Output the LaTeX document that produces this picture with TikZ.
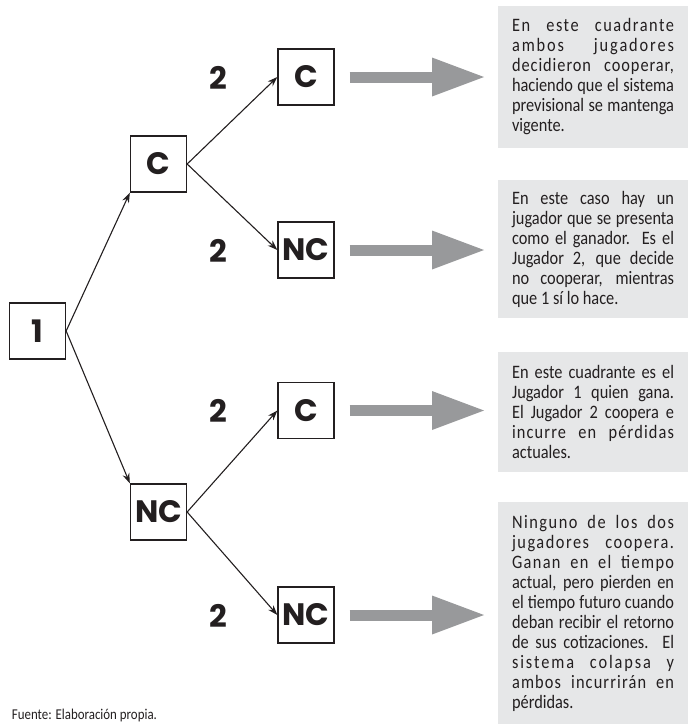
\documentclass[tikz,border=0pt]{standalone}
\usepackage{fontspec}
\usetikzlibrary{arrows.meta}
\newfontfamily\notefont{Carlito}[FakeStretch=0.86]
\newfontfamily\labelfont{Poppins}
\newcommand\spreadtext[2]{{\addfontfeatures{LetterSpace=#1}#2}}
\definecolor{inkblack}{HTML}{231F20}
\definecolor{notegrey}{HTML}{E6E7E8}
\definecolor{arrowgrey}{HTML}{98999B}
\setlength{\parindent}{0pt}

\begin{document}
\begin{tikzpicture}[x=1pt, y=-1pt, inkblack, line width=1.1pt,
    >={Stealth[length=10pt, width=7pt]},
    choice/.style={draw, line width=1.3pt, minimum size=56pt, inner sep=0pt,
      font=\labelfont\bfseries\fontsize{31}{31}\selectfont},
    player/.style={font=\labelfont\bfseries\fontsize{31}{31}\selectfont},
    note/.style={fill=notegrey, anchor=west, text width=162pt, inner xsep=14.5pt,
      inner ysep=0pt, align=justify, font=\notefont\fontsize{19}{20}\selectfont},
    bigarrow/.style={draw=arrowgrey, line width=11pt,
      -{Triangle[length=52pt, width=39pt, line width=0pt]},
      shorten <=15pt, shorten >=13pt}]
  \useasboundingbox (0,0) rectangle (688,724);

  \node[choice] (n1)   at (37.5, 331)  {1};
  \node[choice] (c1)   at (158.5, 164) {C};
  \node[choice] (nc1)  at (158.5, 512) {NC};
  \node[choice] (c2a)  at (306, 77)    {C};
  \node[choice] (nc2a) at (306, 250)   {NC};
  \node[choice] (c2b)  at (306, 410.5) {C};
  \node[choice] (nc2b) at (306, 615)   {NC};

  \node[player] (p2a) at (218, 78)  {2};
  \node[player] (p2b) at (218, 251) {2};
  \node[player] (p2c) at (218, 411) {2};
  \node[player] (p2d) at (218, 616) {2};

  \node[note, minimum height=142pt] (t1) at (497, 77) {\spreadtext{8}{En este cuadrante}\linebreak
    \spreadtext{10}{ambos jugadores}\linebreak \spreadtext{5}{decidieron cooperar,}\linebreak
    haciendo que el sistema\linebreak previsional se mantenga\linebreak vigente.};
  \node[note, minimum height=138pt] (t2) at (497, 249) {En este caso hay un\linebreak
    jugador que se presenta\linebreak como el ganador. Es el\linebreak Jugador 2, que decide\linebreak
    no cooperar, mientras\linebreak que 1 sí lo hace.};
  \node[note, minimum height=120pt] (t3) at (497, 412) {En este cuadrante es el\linebreak
    Jugador 1 quien gana.\linebreak El Jugador 2 coopera e\linebreak
    \spreadtext{6}{incurre en pérdidas}\linebreak actuales.};
  \node[note, minimum height=222pt] (t4) at (497, 613) {\spreadtext{8}{Ninguno de los dos}\linebreak
    \spreadtext{8}{jugadores coopera.}\linebreak \spreadtext{7}{Ganan en el tiempo}\linebreak
    actual, pero pierden en\linebreak el tiempo futuro cuando\linebreak deban recibir el retorno\linebreak
    de sus cotizaciones. El\linebreak \spreadtext{10}{sistema colapsa y}\linebreak
    \spreadtext{6}{ambos incurrirán en}\linebreak pérdidas.};

  \node[anchor=base west, font=\notefont\fontsize{15}{15}\selectfont] (src) at (8, 719)
    {Fuente: Elaboración propia.};

  \draw[->] (n1.east) -- (c1.south west);
  \draw[->] (n1.east) -- (nc1.north west);
  \draw[->] (c1.east) -- (c2a.west);
  \draw[->] (c1.east) -- (nc2a.west);
  \draw[->] (nc1.east) -- (c2b.west);
  \draw[->] (nc1.east) -- (nc2b.west);

  \draw[bigarrow] (c2a.east) -- (c2a.east -| t1.west);
  \draw[bigarrow] (nc2a.east) -- (nc2a.east -| t2.west);
  \draw[bigarrow] (c2b.east) -- (c2b.east -| t3.west);
  \draw[bigarrow] (nc2b.east) -- (nc2b.east -| t4.west);
\end{tikzpicture}
\end{document}
